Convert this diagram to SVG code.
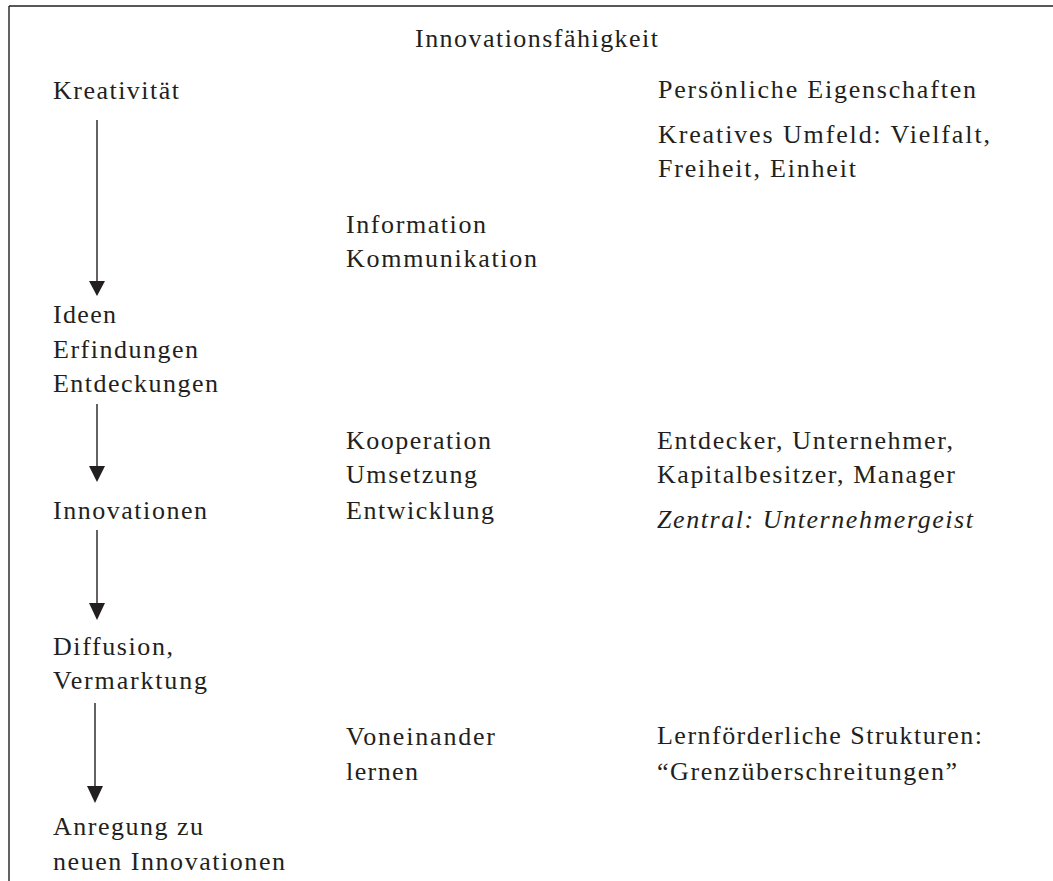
<svg xmlns="http://www.w3.org/2000/svg" width="1053" height="881" viewBox="0 0 1053 881">
<style>
text{font-family:"Liberation Serif","Times New Roman",serif;font-size:26px;fill:#231f20}
.it{font-style:italic}
.ln{stroke:#231f20;stroke-width:1.4;fill:none}
.hd{fill:#231f20;stroke:none}
</style>
<rect x="0" y="0" width="1053" height="881" fill="#ffffff"/>
<g id="frame">
<line class="ln" x1="9" y1="6" x2="1053" y2="6"/>
<line class="ln" x1="9" y1="6" x2="9" y2="881"/>
</g>
<g id="title"><text x="415" y="47" textLength="243" lengthAdjust="spacing">Innovationsfähigkeit</text></g>
<g id="kreativitaet"><text x="53" y="99" textLength="126" lengthAdjust="spacing">Kreativität</text></g>
<g id="ideen">
<text x="53" y="323" textLength="63" lengthAdjust="spacing">Ideen</text>
<text x="53" y="358" textLength="145" lengthAdjust="spacing">Erfindungen</text>
<text x="53" y="392" textLength="165" lengthAdjust="spacing">Entdeckungen</text>
</g>
<g id="innovationen"><text x="53" y="519" textLength="154" lengthAdjust="spacing">Innovationen</text></g>
<g id="diffusion">
<text x="53" y="655" textLength="120" lengthAdjust="spacing">Diffusion,</text>
<text x="53" y="689" textLength="154" lengthAdjust="spacing">Vermarktung</text>
</g>
<g id="anregung">
<text x="53" y="835" textLength="150" lengthAdjust="spacing">Anregung zu</text>
<text x="53" y="870" textLength="232" lengthAdjust="spacing">neuen Innovationen</text>
</g>
<g id="information">
<text x="346" y="233" textLength="140" lengthAdjust="spacing">Information</text>
<text x="346" y="267" textLength="191" lengthAdjust="spacing">Kommunikation</text>
</g>
<g id="kooperation">
<text x="346" y="449" textLength="145" lengthAdjust="spacing">Kooperation</text>
<text x="346" y="483" textLength="131" lengthAdjust="spacing">Umsetzung</text>
<text x="346" y="519" textLength="148" lengthAdjust="spacing">Entwicklung</text>
</g>
<g id="voneinander">
<text x="346" y="745" textLength="149" lengthAdjust="spacing">Voneinander</text>
<text x="346" y="780" textLength="72" lengthAdjust="spacing">lernen</text>
</g>
<g id="eigenschaften">
<text x="658" y="98" textLength="318" lengthAdjust="spacing">Persönliche Eigenschaften</text>
<text x="658" y="143" textLength="332" lengthAdjust="spacing">Kreatives Umfeld: Vielfalt,</text>
<text x="658" y="177" textLength="198" lengthAdjust="spacing">Freiheit, Einheit</text>
</g>
<g id="akteure">
<text x="657" y="449" textLength="296" lengthAdjust="spacing">Entdecker, Unternehmer,</text>
<text x="657" y="483" textLength="298" lengthAdjust="spacing">Kapitalbesitzer, Manager</text>
<text class="it" x="657" y="528" textLength="316" lengthAdjust="spacing">Zentral: Unternehmergeist</text>
</g>
<g id="strukturen">
<text x="657" y="744" textLength="325" lengthAdjust="spacing">Lernförderliche Strukturen:</text>
<text x="657" y="780" textLength="300" lengthAdjust="spacing">“Grenzüberschreitungen”</text>
</g>
<g id="connectors">
<line class="ln" x1="97" y1="120" x2="97" y2="284"/>
<polygon class="hd" points="89,281 105,281 97,296"/>
<line class="ln" x1="97" y1="404" x2="97" y2="468"/>
<polygon class="hd" points="89,466 105,466 97,482"/>
<line class="ln" x1="97" y1="530" x2="97" y2="605"/>
<polygon class="hd" points="89,603 105,603 97,620"/>
<line class="ln" x1="95" y1="703" x2="95" y2="788"/>
<polygon class="hd" points="87,786 103,786 95,803"/>
</g>
</svg>
